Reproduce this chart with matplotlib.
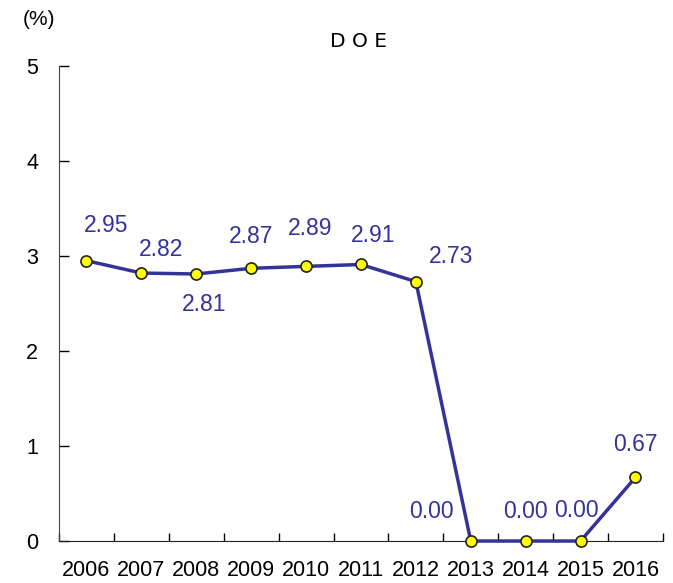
import matplotlib
matplotlib.use("Agg")
import matplotlib.pyplot as plt
import numpy as np

plt.rcParams['font.family'] = ['Liberation Sans', 'DejaVu Sans']

years = ["2006", "2007", "2008", "2009", "2010", "2011", "2012", "2013", "2014", "2015", "2016"]
doe = [2.95, 2.82, 2.81, 2.87, 2.89, 2.91, 2.73, 0.00, 0.00, 0.00, 0.67]
# label offsets in points (dx, dy)
offsets = [(14, 25), (14, 17), (6, -22), (0, 23), (3, 27), (9, 21),
           (25, 18), (-28, 21), (0, 21), (-3, 22), (0, 24)]

line_color = "#333399"

fig = plt.figure(figsize=(6.73, 5.83), dpi=100)
ax = fig.add_axes([0.0877, 0.072, 0.8973, 0.815])

x = np.arange(len(years)) + 0.5
ax.plot(x, doe, color=line_color, lw=2.5, marker="o", ms=8,
        mfc="#ffff00", mec="#222222", mew=1.2, zorder=3, clip_on=False)

for xi, v, (dx, dy) in zip(x, doe, offsets):
    ax.annotate(f"{v:.2f}", (xi, v), xytext=(dx, dy), textcoords="offset points",
                ha="center", va="center", color=line_color, fontsize=16.5)

ax.set_xlim(0, len(years))
ax.set_ylim(0, 5)
ax.set_yticks(range(6))
ax.set_xticks(np.arange(len(years) + 1))
ax.set_xticklabels([])
ax.set_xticks(x, minor=True)
ax.set_xticklabels(years, minor=True, fontsize=15.5)
ax.tick_params(axis="x", which="major", direction="in", length=6, width=1)
ax.tick_params(axis="x", which="minor", length=0, pad=14)
ax.tick_params(axis="y", direction="in", length=7, width=1, labelsize=15.5, pad=15)

ax.spines["top"].set_visible(False)
ax.spines["right"].set_visible(False)
ax.spines["left"].set_color("#444444")
ax.spines["bottom"].set_color("#222222")

fig.text(0.532, 0.928, "D O E", ha="center", va="center", fontsize=14.5,
         family="DejaVu Sans")
fig.text(0.058, 0.966, "(%)", ha="center", va="center", fontsize=15)

fig.savefig("out.png", dpi=100)
